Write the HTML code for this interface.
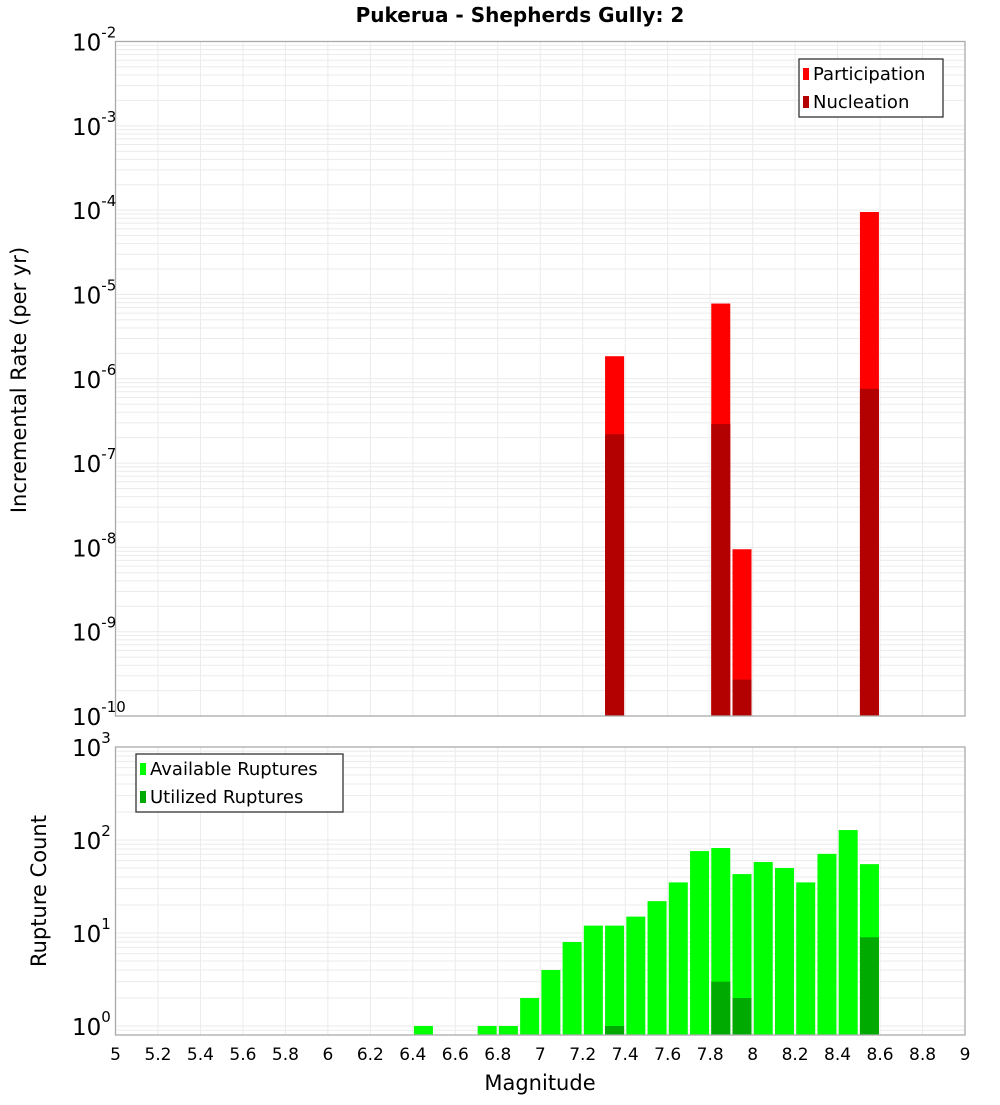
<!DOCTYPE html>
<html><head><meta charset="utf-8"><style>
body{margin:0;background:#fff;}
svg{font-family:"DejaVu Sans","Liberation Sans",sans-serif;}
</style></head><body>
<svg id="c" width="1000" height="1100" xmlns="http://www.w3.org/2000/svg"></svg>
<script>
const xTicks=[5,5.2,5.4,5.6,5.8,6,6.2,6.4,6.6,6.8,7,7.2,7.4,7.6,7.8,8,8.2,8.4,8.6,8.8,9];
const rateMags=[7.35,7.85,7.95,8.55];
const partVals=[1.85e-6,7.8e-6,9.5e-9,9.5e-5];
const nuclVals=[2.2e-7,2.9e-7,2.7e-10,7.6e-7];
const rateTickExps=[-10,-9,-8,-7,-6,-5,-4,-3,-2];
const countMags=[6.45,6.75,6.85,6.95,7.05,7.15,7.25,7.35,7.45,7.55,7.65,7.75,7.85,7.95,8.05,8.15,8.25,8.35,8.45,8.55];
const availVals=[1,1,1,2,4,8,12,12,15,22,35,76,82,43,58,50,35,71,128,55];
const utilMags=[7.35,7.85,7.95,8.55];
const utilVals=[1,3,2,9];
const countTickExps=[0,1,2,3];

const svg=document.getElementById('c');
const NS='http://www.w3.org/2000/svg';
function mk(tag,attrs,parent){const e=document.createElementNS(NS,tag);for(const k in attrs)e.setAttribute(k,attrs[k]);(parent||svg).appendChild(e);return e;}
const L=115.5,R=965;
const xS=m=>L+(m-5)/(9-5)*(R-L);
const T1=41.5,B1=716;
const y1=v=>B1-(Math.log10(v)+10)/8*(B1-T1);
const T2=747,B2=1035;
const y2=v=>1026-Math.log10(v)*93;
const BW=19;

function grid(top,bot,yf,lo,hi){
  for(let e=lo;e<hi;e++)for(let k=1;k<10;k++){const v=k*Math.pow(10,e);const y=yf(v);if(y<top-0.1||y>bot+0.1)continue;
    const g=mk('line',{x1:L,x2:R,y1:y,y2:y,stroke:'#ebebeb','stroke-width':1});
    }
  xTicks.forEach(t=>{const x=xS(t);const g=mk('line',{x1:x,x2:x,y1:top,y2:bot,stroke:'#ebebeb','stroke-width':1});
    });
}
grid(T1,B1,y1,-10,-2);
grid(T2,B2,y2,-1,3);

// top bars
rateMags.forEach((m,i)=>{
  const x=xS(m)-BW/2;
  const p=mk('rect',{x:x,y:y1(partVals[i]),width:BW,height:B1-y1(partVals[i]),fill:'#ff0000'});
  
  const n=mk('rect',{x:x,y:y1(nuclVals[i]),width:BW,height:B1-y1(nuclVals[i]),fill:'#b30000'});
  
});
countMags.forEach((m,i)=>{
  const x=xS(m)-BW/2;const yy=Math.max(T2,y2(availVals[i]));
  const b=mk('rect',{x:x,y:yy,width:BW,height:B2-yy,fill:'#00ff00'});
  
});
utilMags.forEach((m,i)=>{
  const x=xS(m)-BW/2;const yy=y2(utilVals[i]);
  const b=mk('rect',{x:x,y:yy,width:BW,height:B2-yy,fill:'#00aa00'});
  
});

// frames
const f1=mk('rect',{x:L,y:T1,width:R-L,height:B1-T1,fill:'none',stroke:'#aaa','stroke-width':1.3});

const f2=mk('rect',{x:L,y:T2,width:R-L,height:B2-T2,fill:'none',stroke:'#aaa','stroke-width':1.3});


function powLabel(y,e,name){
  const t=mk('text',{x:108,y:y+9,'text-anchor':'end','font-size':23,fill:'#000'});
  
  const a=mk('tspan',{},t);a.textContent='10';
  const s=mk('tspan',{dy:-13,'font-size':15},t);s.textContent=String(e);
  // shift so superscript sits right of 10
  t.setAttribute('text-anchor','start');
  t.setAttribute('x',72);
}
rateTickExps.forEach(e=>powLabel(y1(Math.pow(10,e)),e,'y-tick-label'));
countTickExps.forEach(e=>powLabel(y2(Math.pow(10,e)),e,'y-tick-label'));

xTicks.forEach(t=>{const tx=mk('text',{x:xS(t),y:1060,'text-anchor':'middle','font-size':17,fill:'#000'});
  
  tx.textContent=String(t);});

const title=mk('text',{x:520,y:22,'text-anchor':'middle','font-size':20,'font-weight':'bold',fill:'#000'});

title.textContent='Pukerua - Shepherds Gully: 2';
const xt=mk('text',{x:540,y:1090,'text-anchor':'middle','font-size':21,fill:'#000'});
xt.textContent='Magnitude';
const yt1=mk('text',{x:0,y:0,transform:'translate(26,380) rotate(-90)','text-anchor':'middle','font-size':21,fill:'#000'});
yt1.textContent='Incremental Rate (per yr)';
const yt2=mk('text',{x:0,y:0,transform:'translate(46,891) rotate(-90)','text-anchor':'middle','font-size':21,fill:'#000'});
yt2.textContent='Rupture Count';

function legend(x,y,w,items,name){
  const g=mk('g',{});
  mk('rect',{x:x,y:y,width:w,height:58,fill:'#fff',stroke:'#333','stroke-width':1.3},g);
  items.forEach((it,i)=>{
    const sw=mk('rect',{x:x+4,y:y+9+i*28,width:6,height:12,fill:it[1]},g);
    
    const t=mk('text',{x:x+14,y:y+21+i*28,'font-size':18,fill:'#000'},g);
    
    t.textContent=it[0];
  });
}
legend(799,59,144,[['Participation','#ff0000'],['Nucleation','#b30000']],'rate-legend');
legend(136,754,207,[['Available Ruptures','#00ff00'],['Utilized Ruptures','#00aa00']],'count-legend');
</script>
</body></html>
